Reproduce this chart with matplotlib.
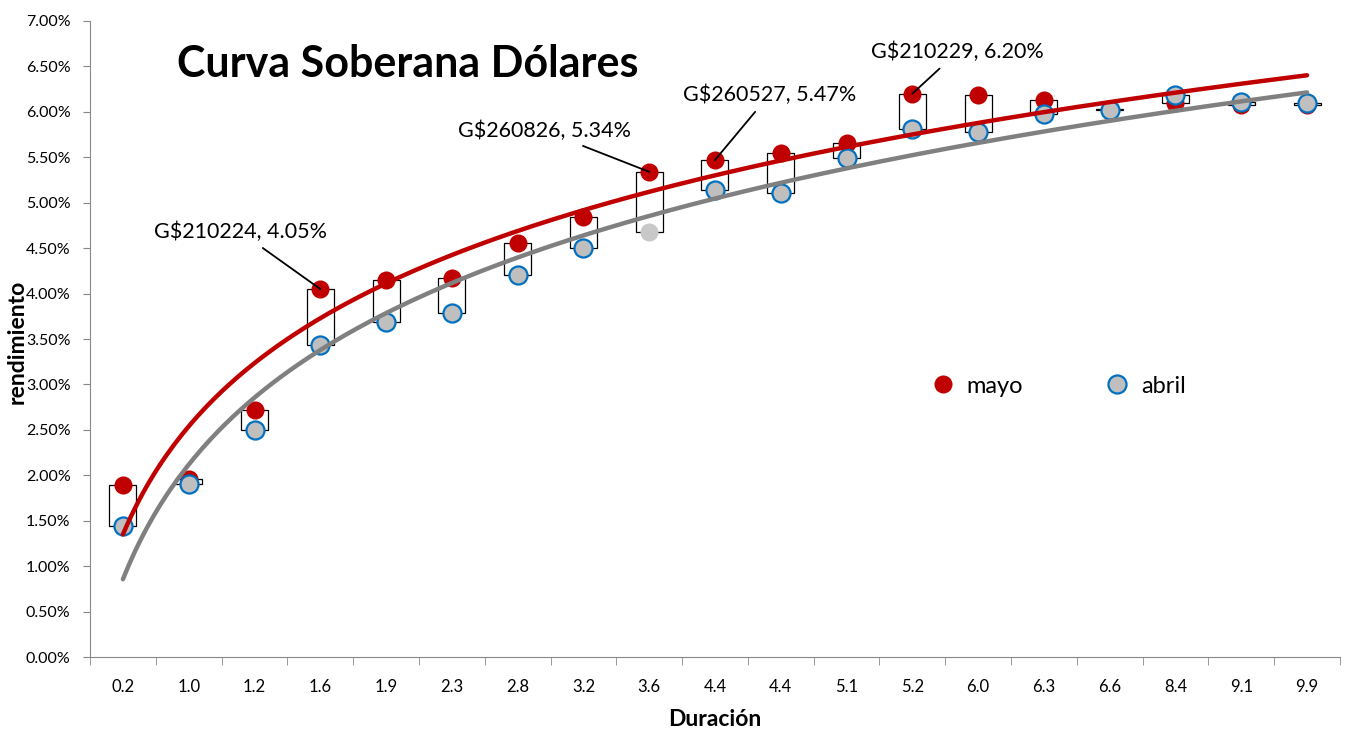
import numpy as np
import matplotlib.pyplot as plt
from matplotlib.ticker import PercentFormatter, FixedLocator

plt.rcParams['font.family'] = ['Lato', 'DejaVu Sans']

# duracion de cada bono (eje de categorias)
duracion = ['0.2', '1.0', '1.2', '1.6', '1.9', '2.3', '2.8', '3.2', '3.6', '4.4',
            '4.4', '5.1', '5.2', '6.0', '6.3', '6.6', '8.4', '9.1', '9.9']
# rendimientos en %
mayo = [1.89, 1.96, 2.72, 4.05, 4.15, 4.17, 4.56, 4.84, 5.34, 5.47,
        5.55, 5.66, 6.20, 6.19, 6.13, 6.03, 6.10, 6.07, 6.07]
abril = [1.445, 1.90, 2.50, 3.43, 3.69, 3.79, 4.20, 4.50, 4.68, 5.14,
         5.11, 5.49, 5.81, 5.78, 5.98, 6.02, 6.18, 6.105, 6.10]
# bonos destacados: (indice, etiqueta)
destacados = [(3, 'G$210224'), (8, 'G$260826'), (9, 'G$260527'), (12, 'G$210229')]
dato_sin_borde = 8  # abril 3.6 sin borde

rojo = '#C00000'
gris = '#808080'

fig = plt.figure(figsize=(13.48, 7.31), dpi=100)
ax = fig.add_axes([0.0668, 0.1012, 0.9272, 0.8701])

x = np.arange(len(duracion))
mayo_a = np.array(mayo)
abril_a = np.array(abril)

# barras arriba/abajo entre ambas series
bajo = np.minimum(mayo_a, abril_a)
alto = np.maximum(mayo_a, abril_a)
ax.bar(x, alto - bajo, bottom=bajo, width=0.41, color='white',
       edgecolor='black', linewidth=0.9, zorder=2)

# puntos
ax.plot(x, mayo_a, 'o', color=rojo, markersize=13, markeredgewidth=0,
        zorder=3, label='mayo')
resto = [i for i in x if i != dato_sin_borde]
ax.plot(x[resto], abril_a[resto], 'o', markerfacecolor='#BFBFBF',
        markeredgecolor='#0070C0', markeredgewidth=1.6, markersize=13,
        zorder=4, label='abril')
ax.plot(x[dato_sin_borde], abril_a[dato_sin_borde], 'o', color='#C8C8C8',
        markersize=13, markeredgewidth=0, zorder=4)

# lineas de tendencia logaritmicas sobre el numero de categoria
xt = np.linspace(1, len(duracion), 300)
for serie, col in ((mayo_a, rojo), (abril_a, gris)):
    a, b = np.polyfit(np.log(x + 1), serie, 1)
    ax.plot(xt - 1, a * np.log(xt) + b, color=col, linewidth=3.2,
            solid_capstyle='round', zorder=5)

# etiquetas de bonos destacados
desplaz = {3: (-1.22, 0.63), 8: (-1.59, 0.45), 9: (0.83, 0.72), 12: (0.69, 0.46)}
for i, nombre in destacados:
    dx, dy = desplaz[i]
    ax.annotate(f'{nombre}, {mayo[i]:.2f}%', xy=(i, mayo[i]),
                xytext=(i + dx, mayo[i] + dy), ha='center', va='center',
                fontsize=15.5, zorder=6,
                arrowprops=dict(arrowstyle='-', color='black', lw=1.3,
                                shrinkA=4, shrinkB=0))

ax.text(0.254, 0.932, 'Curva Soberana Dólares', transform=ax.transAxes,
        ha='center', va='center', fontsize=31, fontweight='bold')

ax.set_xlim(-0.5, len(duracion) - 0.5)
ax.set_ylim(0, 7)
ax.yaxis.set_major_locator(FixedLocator(np.arange(0, 7.01, 0.5)))
ax.yaxis.set_major_formatter(PercentFormatter(decimals=2))
ax.set_xticks(x)
ax.set_xticklabels(duracion)
ax.xaxis.set_minor_locator(FixedLocator(np.arange(-0.5, len(duracion), 1)))
ax.tick_params(axis='x', which='major', length=0, pad=16, labelsize=12)
ax.tick_params(axis='x', which='minor', length=6, color='#888888')
ax.tick_params(axis='y', length=5, color='#888888', labelsize=11.5, pad=9)

for s in ('top', 'right'):
    ax.spines[s].set_visible(False)
for s in ('left', 'bottom'):
    ax.spines[s].set_color('#888888')

ax.set_xlabel('Duración', fontsize=16.5, fontweight='bold', labelpad=10)
ax.set_ylabel('rendimiento', fontsize=16.5, fontweight='bold')
ax.yaxis.set_label_coords(-0.0496, 0.495)

ax.legend(loc='center', bbox_to_anchor=(0.77, 0.426), ncol=2, frameon=False,
          fontsize=17, handletextpad=0.0, columnspacing=3.0, markerscale=1.0)

fig.savefig('out.png', dpi=100)
